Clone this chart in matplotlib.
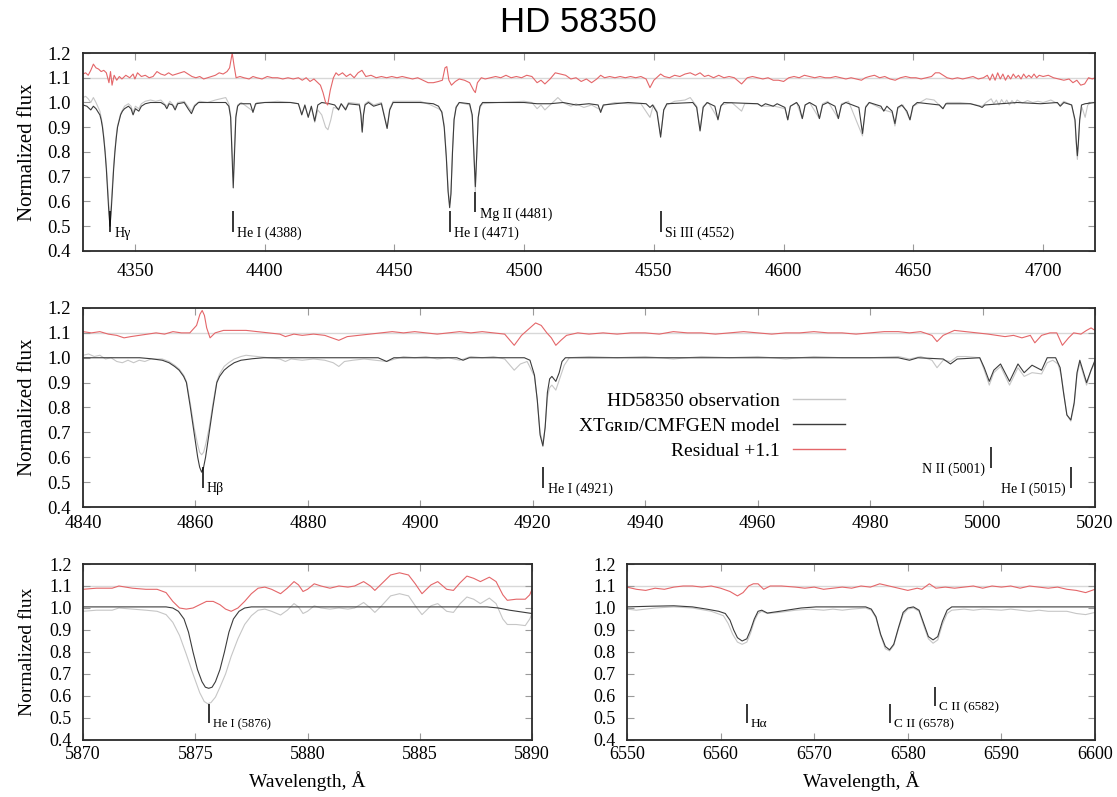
import numpy as np
import matplotlib.pyplot as plt
from matplotlib.ticker import FormatStrFormatter

plt.rcParams['font.family'] = ['Liberation Serif', 'DejaVu Serif']

# ---------------- panel 1 : 4330-4720 A ----------------
p1_model = np.array([
    [4330, 0.99], [4331.5, 0.985], [4333, 0.97], [4334, 0.985], [4335, 0.975], [4336.5, 0.95],
    [4337, 0.93], [4337.5, 0.9], [4338, 0.855], [4338.5, 0.8], [4339, 0.73], [4339.5, 0.64],
    [4340, 0.55], [4340.4, 0.50], [4340.8, 0.55], [4341.3, 0.64], [4341.8, 0.73], [4342.3, 0.8],
    [4342.8, 0.855], [4343.3, 0.9], [4344, 0.93], [4344.5, 0.95], [4345.2, 0.965], [4346, 0.975],
    [4347.5, 0.985], [4348.5, 0.975], [4349.3, 0.95], [4350.2, 0.975], [4351.5, 0.965], [4352.5, 0.985],
    [4354, 0.995], [4356, 1.0], [4360, 1.0], [4361.5, 0.99], [4362.3, 0.975], [4363.2, 0.995],
    [4364.5, 0.99], [4365.5, 0.97], [4366.5, 0.995], [4369, 1.0], [4370.5, 0.975], [4371.8, 0.955],
    [4373, 0.985], [4374.5, 1.0], [4385, 1.0], [4386.2, 0.985], [4386.9, 0.94], [4387.4, 0.8],
    [4387.9, 0.655], [4388.4, 0.8], [4388.9, 0.94], [4389.6, 0.985], [4390.5, 0.995], [4394.5, 0.995],
    [4395.5, 0.96], [4396.5, 0.995], [4400, 1.0], [4410, 1.0], [4413, 0.995], [4414.3, 0.95],
    [4415.5, 0.99], [4416.8, 0.94], [4418, 0.985], [4419.3, 0.925], [4420.5, 0.99], [4422, 1.0],
    [4425, 0.995], [4427, 0.99], [4428.5, 0.97], [4429.5, 0.995], [4431.2, 0.97], [4432.3, 0.995],
    [4436.5, 0.99], [4437.1, 0.95], [4437.6, 0.88], [4438.1, 0.95], [4438.7, 0.99], [4440, 1.0],
    [4442, 0.985], [4443.5, 0.99], [4445, 0.995], [4446, 0.95], [4447.2, 0.895], [4448.2, 0.97],
    [4449.5, 1.0], [4460, 1.0], [4465, 0.995], [4467, 0.985], [4468.3, 0.96], [4469.2, 0.9],
    [4470, 0.78], [4470.7, 0.64], [4471.3, 0.575], [4471.8, 0.63], [4472.4, 0.8], [4473, 0.93],
    [4473.8, 0.98], [4475, 1.0], [4479, 0.995], [4480, 0.95], [4480.6, 0.8], [4481.2, 0.66],
    [4481.7, 0.78], [4482.3, 0.94], [4483, 0.985], [4484, 1.0], [4500, 1.0], [4505, 0.995],
    [4510, 0.995], [4515, 1.0], [4520, 0.99], [4525, 0.995], [4528.5, 0.99], [4529.5, 0.96],
    [4530.5, 0.99], [4535, 0.995], [4540, 1.0], [4547, 0.995], [4548.5, 0.98], [4549.5, 0.99],
    [4551.2, 0.96], [4552.6, 0.86], [4553.8, 0.97], [4555, 0.995], [4565, 1.0], [4566.5, 0.98],
    [4567.8, 0.885], [4569, 0.98], [4570.5, 1.0], [4573.5, 0.985], [4574.7, 0.93], [4575.8, 0.985],
    [4577, 1.0], [4590, 0.995], [4591.5, 0.985], [4593, 0.995], [4596, 0.985], [4597.5, 0.995],
    [4600.5, 0.98], [4601.6, 0.93], [4602.6, 0.985], [4605, 1.0], [4606, 0.985], [4607.2, 0.935],
    [4608.3, 0.99], [4610, 1.0], [4612.5, 0.985], [4613.8, 0.935], [4615, 0.99], [4617, 1.0],
    [4619.8, 0.985], [4621.1, 0.935], [4622.3, 0.99], [4624, 1.0], [4629, 0.98], [4630.4, 0.875],
    [4631.6, 0.98], [4633, 1.0], [4637.5, 0.985], [4638.6, 0.965], [4639.8, 0.985], [4641.8, 0.965],
    [4642.9, 0.915], [4644, 0.98], [4645.5, 0.99], [4647.5, 0.965], [4648.7, 0.93], [4649.8, 0.985],
    [4651.5, 1.0], [4660, 0.99], [4661.4, 0.975], [4662.5, 0.995], [4672, 0.995], [4675.5, 0.985],
    [4676.5, 0.98], [4677.5, 0.99], [4690, 1.0], [4699, 0.995], [4705.5, 1.0], [4706.6, 0.985],
    [4708, 1.0], [4711, 0.99], [4712.3, 0.93], [4712.8, 0.84], [4713.2, 0.785], [4713.6, 0.84],
    [4714.1, 0.93], [4714.8, 0.99], [4716.2, 0.995], [4720, 1.0]])

p1_obs = np.array([
    [4330, 1.02], [4331, 1.025], [4332, 1.015], [4333, 1.0], [4334, 1.02], [4335, 1.0],
    [4336.5, 0.965], [4337, 0.94], [4337.5, 0.91], [4338, 0.865], [4338.5, 0.81], [4339, 0.745],
    [4339.5, 0.66], [4340, 0.58], [4340.4, 0.545], [4340.8, 0.58], [4341.3, 0.66], [4341.8, 0.745],
    [4342.3, 0.81], [4342.8, 0.865], [4343.3, 0.905], [4344, 0.935], [4344.5, 0.955], [4346, 0.985],
    [4347.5, 0.995], [4348.5, 0.985], [4349.3, 0.96], [4350.2, 0.985], [4351.5, 0.975], [4352.5, 0.995],
    [4354, 1.005], [4356, 1.01], [4358, 1.005], [4360, 1.01], [4362.3, 0.985], [4363.5, 1.005],
    [4365.5, 0.98], [4366.5, 1.0], [4369, 1.005], [4371.8, 0.965], [4373, 0.99], [4375, 1.005],
    [4378, 1.0], [4381, 1.01], [4383, 1.015], [4385, 1.02], [4386.2, 0.995], [4386.9, 0.95],
    [4387.4, 0.82], [4387.9, 0.70], [4388.4, 0.82], [4388.9, 0.95], [4389.6, 0.99], [4391, 1.0],
    [4395.5, 0.965], [4397, 1.0], [4400, 1.0], [4405, 1.005], [4410, 1.0], [4413, 0.995],
    [4414.3, 0.955], [4415.5, 0.985], [4416.8, 0.945], [4418, 0.98], [4419.3, 0.92], [4420.5, 0.97],
    [4422, 0.95], [4423.5, 0.90], [4424.4, 0.89], [4425.5, 0.93], [4426.5, 0.98], [4428.5, 0.975],
    [4429.5, 0.995], [4431.2, 0.975], [4432.3, 1.0], [4436.5, 0.995], [4437.1, 0.955], [4437.6, 0.885],
    [4438.1, 0.955], [4438.7, 0.995], [4440, 1.005], [4442, 0.99], [4445, 1.0], [4446, 0.955],
    [4447.2, 0.9], [4448.2, 0.975], [4449.5, 1.005], [4455, 1.005], [4460, 1.005], [4464, 0.99],
    [4467, 0.975], [4468.3, 0.965], [4469.2, 0.91], [4470, 0.79], [4470.7, 0.65], [4471.3, 0.59],
    [4471.8, 0.64], [4472.4, 0.81], [4473, 0.935], [4473.8, 0.985], [4475, 1.0], [4479, 0.99],
    [4480, 0.94], [4480.6, 0.79], [4481.2, 0.64], [4481.7, 0.77], [4482.3, 0.935], [4483, 0.98],
    [4484, 0.995], [4490, 1.0], [4500, 1.005], [4503, 1.0], [4505, 0.975], [4506.5, 0.99],
    [4508, 0.97], [4510, 0.99], [4513, 1.02], [4515, 1.0], [4518, 0.985], [4520, 0.995],
    [4523, 0.98], [4526, 0.99], [4529.5, 0.97], [4531, 0.99], [4535, 1.0], [4540, 0.995],
    [4545, 0.995], [4548.5, 0.94], [4549.8, 0.99], [4551.2, 0.965], [4552.6, 0.87], [4553.8, 0.97],
    [4555, 0.99], [4558, 1.005], [4562, 1.01], [4564, 1.02], [4566.5, 0.985], [4567.8, 0.89],
    [4569, 0.985], [4571, 1.0], [4574.7, 0.935], [4576, 0.99], [4580, 1.0], [4583.8, 0.965],
    [4585, 0.995], [4590, 0.995], [4591.5, 0.985], [4596.5, 0.985], [4600.5, 0.975], [4601.6, 0.93],
    [4602.6, 0.985], [4605, 1.0], [4607.2, 0.935], [4608.3, 0.99], [4610, 1.0], [4613.8, 0.935],
    [4615, 0.995], [4617, 1.005], [4621.1, 0.935], [4622.3, 0.995], [4625, 1.005], [4630.4, 0.865],
    [4631.6, 0.985], [4633, 1.0], [4638.6, 0.97], [4641.8, 0.96], [4642.9, 0.905], [4644, 0.975],
    [4646, 0.99], [4648.7, 0.93], [4650, 0.985], [4655, 1.015], [4658, 1.01], [4661.4, 0.975],
    [4663, 1.0], [4668, 1.0], [4672, 0.995], [4676.5, 0.985], [4678, 1.0], [4680, 1.015],
    [4681, 0.995], [4682, 1.01], [4683, 0.99], [4684, 1.012], [4685, 0.995], [4686, 1.01],
    [4687, 0.99], [4688, 1.008], [4689, 0.995], [4690, 1.01], [4692, 0.998], [4694, 1.008],
    [4696, 1.0], [4698, 1.005], [4700, 1.0], [4703, 1.01], [4706.6, 0.99], [4708, 1.005],
    [4711, 0.99], [4712.3, 0.92], [4712.8, 0.83], [4713.2, 0.77], [4713.6, 0.83], [4714.1, 0.93],
    [4715, 0.98], [4716.2, 0.94], [4717.2, 0.99], [4718.5, 1.0], [4720, 1.0]])

p1_resid = np.array([
    [4330, 1.115], [4331, 1.12], [4332, 1.11], [4333, 1.13], [4334, 1.155], [4335, 1.14],
    [4336, 1.135], [4337, 1.125], [4338, 1.13], [4339, 1.12], [4340, 1.08], [4340.6, 1.125],
    [4341.2, 1.07], [4342, 1.11], [4343, 1.09], [4344, 1.105], [4345, 1.095], [4346.5, 1.11],
    [4348, 1.1], [4349.3, 1.115], [4350, 1.095], [4351, 1.12], [4352.5, 1.105], [4354, 1.11],
    [4355.5, 1.1], [4357, 1.105], [4358.5, 1.125], [4360, 1.115], [4361.5, 1.11], [4363, 1.12],
    [4364.5, 1.11], [4366, 1.115], [4367.5, 1.12], [4369, 1.125], [4370.5, 1.115], [4372, 1.105],
    [4373.5, 1.1], [4375, 1.105], [4376.5, 1.095], [4378, 1.1], [4379.5, 1.105], [4381, 1.11],
    [4382.5, 1.12], [4384, 1.115], [4385.5, 1.125], [4386.5, 1.14], [4387.5, 1.2], [4388.2, 1.15],
    [4389, 1.1], [4390.5, 1.105], [4392, 1.1], [4394, 1.095], [4395.5, 1.105], [4397, 1.1],
    [4399, 1.095], [4401, 1.105], [4403, 1.1], [4405, 1.1], [4407, 1.095], [4409, 1.1],
    [4411, 1.095], [4413, 1.1], [4414.5, 1.09], [4416, 1.1], [4417.5, 1.085], [4419, 1.095],
    [4420.5, 1.08], [4421.5, 1.07], [4422.5, 1.04], [4423.5, 1.0], [4424.3, 0.99], [4425.3, 1.05],
    [4426.5, 1.1], [4427.5, 1.12], [4428.5, 1.11], [4430, 1.12], [4431.5, 1.105], [4433, 1.115],
    [4434.5, 1.1], [4436, 1.12], [4437.5, 1.13], [4439, 1.105], [4441, 1.11], [4443, 1.1],
    [4445, 1.105], [4447, 1.1], [4449, 1.105], [4451, 1.1], [4453, 1.105], [4455, 1.1],
    [4457, 1.095], [4459, 1.1], [4461, 1.09], [4463, 1.08], [4465, 1.08], [4467, 1.085],
    [4468.5, 1.09], [4469.5, 1.14], [4470.2, 1.145], [4471, 1.09], [4472, 1.07], [4473.5, 1.085],
    [4475, 1.095], [4477, 1.09], [4479, 1.08], [4480.5, 1.05], [4481.2, 1.04], [4482, 1.08],
    [4483.5, 1.1], [4485, 1.095], [4487, 1.1], [4489, 1.105], [4491, 1.1], [4493, 1.11],
    [4495, 1.1], [4497, 1.105], [4499, 1.1], [4501, 1.11], [4503, 1.105], [4505, 1.08],
    [4506.5, 1.09], [4508, 1.075], [4510, 1.095], [4512, 1.12], [4514, 1.115], [4516, 1.11],
    [4518, 1.095], [4520, 1.1], [4522, 1.085], [4524, 1.095], [4526, 1.08], [4528, 1.095],
    [4529.5, 1.11], [4531, 1.1], [4533, 1.105], [4535, 1.1], [4537, 1.105], [4539, 1.1],
    [4541, 1.105], [4543, 1.1], [4545, 1.105], [4547, 1.095], [4548.5, 1.06], [4550, 1.09],
    [4552.6, 1.115], [4554, 1.105], [4556, 1.1], [4558, 1.11], [4560, 1.105], [4562, 1.115],
    [4564, 1.12], [4566, 1.11], [4567.8, 1.12], [4569.5, 1.105], [4571, 1.11], [4573, 1.1],
    [4575, 1.11], [4577, 1.1], [4579, 1.105], [4581, 1.1], [4583.8, 1.075], [4586, 1.1],
    [4588, 1.105], [4590, 1.1], [4592, 1.095], [4594, 1.1], [4596, 1.09], [4598, 1.09],
    [4600, 1.085], [4602, 1.1], [4604, 1.105], [4606, 1.1], [4608, 1.11], [4610, 1.105],
    [4612, 1.1], [4614, 1.105], [4616, 1.1], [4618, 1.1], [4620, 1.105], [4622, 1.1],
    [4624, 1.095], [4626, 1.1], [4628, 1.095], [4630, 1.09], [4631.5, 1.1], [4633, 1.105],
    [4635, 1.11], [4637, 1.1], [4639, 1.105], [4641, 1.095], [4643, 1.09], [4645, 1.1],
    [4647, 1.105], [4649, 1.1], [4651, 1.1], [4653, 1.095], [4655, 1.1], [4657, 1.105],
    [4658.5, 1.12], [4660, 1.12], [4661.5, 1.11], [4663, 1.1], [4665, 1.095], [4667, 1.1],
    [4669, 1.095], [4671, 1.1], [4673, 1.105], [4675, 1.095], [4677, 1.1], [4678.5, 1.11],
    [4679.5, 1.09], [4680.5, 1.115], [4681.5, 1.09], [4682.5, 1.12], [4683.5, 1.095], [4684.5, 1.115],
    [4685.5, 1.09], [4686.5, 1.11], [4687.5, 1.095], [4688.5, 1.115], [4689.5, 1.1], [4690.5, 1.11],
    [4691.5, 1.095], [4692.5, 1.115], [4693.5, 1.1], [4694.5, 1.11], [4695.5, 1.1], [4696.5, 1.115],
    [4697.5, 1.1], [4698.5, 1.11], [4700, 1.105], [4702, 1.11], [4704, 1.1], [4706, 1.095],
    [4708, 1.09], [4710, 1.095], [4711.5, 1.08], [4713, 1.09], [4714.5, 1.07], [4716, 1.075],
    [4717.5, 1.1], [4719, 1.095], [4720, 1.1]])

p1_ids = ['Hγ', 'He I (4388)', 'He I (4471)', 'Mg II (4481)', 'Si III (4552)']
p1_id_wl = [4340.5, 4387.9, 4471.3, 4481.2, 4552.6]
p1_id_high = [False, False, False, True, False]
p1_id_left = [False, False, False, False, False]

# ---------------- panel 2 : 4840-5020 A ----------------
p2_model = np.array([
    [4840, 1.0], [4850.1, 1.0], [4852.1, 0.996], [4854.1, 0.99], [4855.3, 0.98], [4856.3, 0.965],
    [4857.1, 0.95], [4857.9, 0.925], [4858.4, 0.9], [4858.75, 0.85], [4859.1, 0.8], [4859.75, 0.7],
    [4860.4, 0.6], [4860.75, 0.56], [4861.1, 0.54], [4861.45, 0.56], [4861.8, 0.6], [4862.45, 0.7],
    [4863.1, 0.8], [4863.45, 0.85], [4863.8, 0.9], [4864.3, 0.925], [4865.1, 0.95], [4865.9, 0.965],
    [4866.9, 0.98], [4868.1, 0.99], [4870.1, 0.996], [4872.1, 1.0], [4892.5, 1.0], [4894, 0.985],
    [4895.3, 1.0], [4906.5, 1.0], [4907.6, 0.99], [4908.7, 1.0], [4918.5, 1.0], [4919.5, 0.99],
    [4920.3, 0.93], [4920.8, 0.83], [4921.3, 0.69], [4921.8, 0.645], [4922.2, 0.72], [4922.6, 0.86],
    [4923.0, 0.915], [4923.4, 0.925], [4924.1, 0.905], [4924.7, 0.94], [4925.2, 0.985], [4925.8, 1.0],
    [4930, 1.0], [4985, 1.0], [4987, 0.99], [4988.5, 1.0], [4993, 0.995], [4994.3, 0.975],
    [4995.5, 0.995], [4999.5, 1.0], [5000.3, 0.96], [5001.2, 0.905], [5002, 0.95], [5003.2, 0.975],
    [5004.8, 0.905], [5006.3, 0.975], [5007.4, 0.94], [5008.8, 0.97], [5010.5, 0.95], [5011.5, 1.0],
    [5013, 1.0], [5013.8, 0.96], [5014.4, 0.86], [5015.0, 0.77], [5015.7, 0.75], [5016.3, 0.82],
    [5016.8, 0.94], [5017.3, 0.99], [5018.5, 0.9], [5019.3, 0.95], [5020, 0.99]])

p2_obs = np.array([
    [4840, 1.01], [4841, 1.015], [4842, 1.005], [4843, 1.01], [4844, 0.995], [4845, 1.0],
    [4846, 0.985], [4847, 0.98], [4848, 0.99], [4849, 0.98], [4850, 0.99], [4851, 0.985],
    [4852.1, 0.995], [4854.1, 0.995], [4855.3, 0.985], [4856.3, 0.97], [4857.1, 0.955], [4857.9, 0.93],
    [4858.4, 0.905], [4858.75, 0.86], [4859.1, 0.815], [4859.75, 0.72], [4860.4, 0.65], [4860.75, 0.62],
    [4861.1, 0.61], [4861.45, 0.62], [4861.8, 0.65], [4862.45, 0.72], [4863.1, 0.815], [4863.45, 0.86],
    [4863.8, 0.905], [4864.3, 0.935], [4865.1, 0.965], [4865.9, 0.98], [4866.9, 0.995], [4868.1, 1.005],
    [4869, 1.01], [4871, 1.005], [4873, 1.0], [4875, 0.995], [4876, 0.985], [4877, 0.995],
    [4879, 0.99], [4881, 0.995], [4883, 0.99], [4884.5, 0.98], [4885.5, 0.965], [4886.5, 0.985],
    [4888, 0.99], [4890, 0.995], [4892, 0.99], [4894, 0.985], [4895.5, 0.995], [4897, 1.005],
    [4899, 1.0], [4901, 1.005], [4903, 0.995], [4905, 1.0], [4907, 0.99], [4909, 1.005],
    [4911, 1.0], [4913, 1.005], [4915, 0.995], [4916.7, 0.95], [4917.8, 0.975], [4919, 0.985],
    [4920.3, 0.925], [4920.8, 0.83], [4921.3, 0.7], [4921.8, 0.655], [4922.2, 0.72], [4922.6, 0.84],
    [4923.0, 0.88], [4923.4, 0.89], [4924.1, 0.87], [4924.7, 0.91], [4925.6, 0.97], [4926.5, 1.0],
    [4930, 1.005], [4935, 1.0], [4940, 1.005], [4945, 0.995], [4950, 1.005], [4955, 1.0],
    [4960, 1.005], [4965, 0.995], [4970, 1.005], [4975, 1.0], [4980, 1.0], [4985, 1.005],
    [4987, 0.995], [4989, 1.005], [4991, 0.99], [4991.9, 0.96], [4993, 0.99], [4994.3, 0.985],
    [4995.5, 1.005], [4997, 1.005], [4999.5, 1.0], [5000.3, 0.95], [5001.2, 0.89], [5002, 0.94],
    [5003.2, 0.965], [5004.8, 0.89], [5006.3, 0.96], [5007.4, 0.925], [5008.8, 0.94], [5010.5, 0.935],
    [5011.5, 0.98], [5012.5, 0.99], [5013.4, 0.975], [5014.0, 0.93], [5014.5, 0.85], [5015.0, 0.77],
    [5015.7, 0.745], [5016.3, 0.81], [5016.8, 0.93], [5017.3, 0.98], [5018.5, 0.89], [5019.3, 0.95],
    [5020, 0.98]])

p2_resid = np.array([
    [4840, 1.105], [4841.5, 1.1], [4843, 1.105], [4844.5, 1.095], [4846, 1.09], [4847.3, 1.08],
    [4848.5, 1.085], [4850, 1.09], [4851.5, 1.095], [4853, 1.1], [4854.5, 1.095], [4856, 1.105],
    [4857.5, 1.1], [4859, 1.1], [4860.2, 1.13], [4860.8, 1.175], [4861.2, 1.19], [4861.6, 1.17],
    [4862, 1.12], [4862.6, 1.08], [4863.5, 1.1], [4865, 1.11], [4867, 1.11], [4869, 1.11],
    [4871, 1.105], [4873, 1.1], [4875, 1.095], [4876, 1.085], [4877.5, 1.095], [4879, 1.09],
    [4881, 1.095], [4883, 1.09], [4885.5, 1.07], [4887, 1.085], [4889, 1.09], [4891, 1.095],
    [4893, 1.1], [4895, 1.105], [4897, 1.1], [4899, 1.105], [4901, 1.1], [4903, 1.095],
    [4905, 1.1], [4907, 1.105], [4909, 1.1], [4911, 1.105], [4913, 1.1], [4915, 1.095],
    [4916.7, 1.05], [4918, 1.09], [4919.5, 1.12], [4920.5, 1.14], [4921.5, 1.13], [4922.5, 1.1],
    [4923.3, 1.08], [4924.1, 1.05], [4925, 1.07], [4926, 1.09], [4928, 1.1], [4930, 1.095],
    [4932.5, 1.1], [4935, 1.095], [4937.5, 1.1], [4940, 1.1], [4942.5, 1.095], [4945, 1.105],
    [4947.5, 1.1], [4950, 1.1], [4952.5, 1.095], [4955, 1.1], [4957.5, 1.105], [4960, 1.1],
    [4962.5, 1.095], [4965, 1.1], [4967.5, 1.1], [4970, 1.105], [4972.5, 1.1], [4975, 1.1],
    [4977.5, 1.095], [4980, 1.1], [4982.5, 1.105], [4985, 1.105], [4987, 1.1], [4989, 1.105],
    [4991, 1.09], [4991.9, 1.065], [4993, 1.09], [4995, 1.11], [4997, 1.105], [4999, 1.1],
    [5001, 1.095], [5002.5, 1.09], [5004, 1.085], [5005.5, 1.09], [5007, 1.08], [5008.5, 1.09],
    [5009.3, 1.06], [5010.5, 1.09], [5012, 1.1], [5013.2, 1.1], [5014.2, 1.05], [5015.3, 1.08],
    [5016.2, 1.1], [5017.5, 1.095], [5018.5, 1.11], [5019.3, 1.12], [5020, 1.11]])

p2_ids = ['Hβ', 'He I (4921)', 'N II (5001)', 'He I (5015)']
p2_id_wl = [4861.3, 4921.9, 5001.5, 5015.7]
p2_id_high = [False, False, True, False]
p2_id_left = [False, False, True, True]

# ---------------- panel 3 : 5870-5890 A ----------------
p3_model = np.array([
    [5870, 1.005], [5873.7, 1.005], [5874.0, 1.0], [5874.25, 0.985], [5874.5, 0.95], [5874.7, 0.89],
    [5874.9, 0.8], [5875.1, 0.72], [5875.3, 0.665], [5875.45, 0.64], [5875.6, 0.635], [5875.75, 0.64],
    [5875.9, 0.665], [5876.1, 0.72], [5876.3, 0.8], [5876.5, 0.89], [5876.7, 0.95], [5876.95, 0.985],
    [5877.2, 1.0], [5877.5, 1.005], [5888, 1.005], [5888.5, 1.0], [5889, 0.99], [5890, 0.975]])

p3_obs = np.array([
    [5870, 0.985], [5870.6, 0.99], [5871.3, 0.99], [5871.6, 1.0], [5872.2, 0.995], [5872.8, 0.99],
    [5873.3, 0.985], [5873.7, 0.97], [5874.0, 0.935], [5874.3, 0.875], [5874.6, 0.79], [5874.9, 0.7],
    [5875.2, 0.615], [5875.4, 0.575], [5875.55, 0.565], [5875.7, 0.57], [5875.9, 0.595], [5876.1, 0.64],
    [5876.35, 0.7], [5876.6, 0.78], [5876.9, 0.86], [5877.2, 0.925], [5877.5, 0.965], [5877.8, 0.99],
    [5878.1, 0.995], [5878.4, 0.985], [5878.8, 0.968], [5879.1, 0.99], [5879.4, 1.02], [5879.6, 1.005],
    [5879.8, 0.975], [5880.0, 0.985], [5880.3, 1.01], [5880.6, 1.0], [5881.0, 0.995], [5881.4, 1.0],
    [5881.8, 0.995], [5882.1, 1.0], [5882.5, 1.025], [5882.8, 1.0], [5883.0, 0.98], [5883.3, 1.01],
    [5883.7, 1.055], [5884.1, 1.065], [5884.5, 1.055], [5884.8, 1.01], [5885.1, 0.97], [5885.5, 1.01],
    [5885.8, 1.02], [5886.2, 0.985], [5886.5, 0.98], [5886.8, 1.02], [5887.1, 1.05], [5887.4, 1.04],
    [5887.7, 1.02], [5888.1, 1.045], [5888.4, 1.02], [5888.7, 0.95], [5888.9, 0.925], [5889.3, 0.925],
    [5889.7, 0.92], [5889.9, 0.95], [5890, 0.975]])

p3_resid = np.array([
    [5870, 1.085], [5870.6, 1.09], [5871.3, 1.09], [5871.6, 1.1], [5872.2, 1.09], [5872.8, 1.085],
    [5873.3, 1.085], [5873.7, 1.07], [5874.0, 1.03], [5874.3, 1.0], [5874.6, 0.995], [5874.9, 1.0],
    [5875.2, 1.015], [5875.5, 1.03], [5875.8, 1.03], [5876.1, 1.015], [5876.35, 0.995], [5876.6, 0.985],
    [5876.9, 1.0], [5877.2, 1.03], [5877.5, 1.065], [5877.8, 1.09], [5878.1, 1.095], [5878.4, 1.085],
    [5878.8, 1.065], [5879.1, 1.09], [5879.4, 1.12], [5879.6, 1.105], [5879.8, 1.075], [5880.0, 1.085],
    [5880.3, 1.11], [5880.6, 1.1], [5881.0, 1.09], [5881.4, 1.1], [5881.8, 1.095], [5882.1, 1.1],
    [5882.5, 1.12], [5882.8, 1.1], [5883.0, 1.08], [5883.3, 1.11], [5883.7, 1.15], [5884.1, 1.16],
    [5884.5, 1.15], [5884.8, 1.11], [5885.1, 1.065], [5885.5, 1.105], [5885.8, 1.12], [5886.2, 1.085],
    [5886.5, 1.08], [5886.8, 1.115], [5887.1, 1.145], [5887.4, 1.135], [5887.7, 1.12], [5888.1, 1.14],
    [5888.4, 1.12], [5888.7, 1.06], [5888.9, 1.035], [5889.3, 1.04], [5889.7, 1.04], [5889.9, 1.06],
    [5890, 1.085]])

p3_ids = ['He I (5876)']
p3_id_wl = [5875.6]
p3_id_high = [False]
p3_id_left = [False]

# ---------------- panel 4 : 6550-6600 A ----------------
p4_model = np.array([
    [6550, 1.005], [6552.5, 1.008], [6555, 1.01], [6557, 1.005], [6558.5, 0.995], [6559.8, 0.985],
    [6560.5, 0.975], [6561.0, 0.945], [6561.4, 0.9], [6561.8, 0.865], [6562.3, 0.85], [6562.8, 0.86],
    [6563.2, 0.9], [6563.6, 0.95], [6564.0, 0.985], [6564.4, 0.99], [6565, 0.977], [6566.3, 0.985],
    [6568.6, 1.0], [6570.2, 1.005], [6575.5, 1.005], [6576.1, 0.995], [6576.6, 0.96], [6577.1, 0.88],
    [6577.6, 0.825], [6578.05, 0.81], [6578.5, 0.835], [6579.0, 0.91], [6579.5, 0.98], [6580.0, 1.0],
    [6580.6, 1.005], [6581.2, 0.99], [6581.7, 0.93], [6582.2, 0.87], [6582.7, 0.855], [6583.2, 0.87],
    [6583.7, 0.94], [6584.2, 0.99], [6584.7, 1.005], [6600, 1.005]])

p4_obs = np.array([
    [6550, 0.995], [6551, 0.99], [6552, 0.995], [6553, 1.0], [6555, 1.005], [6557, 1.0],
    [6559, 0.985], [6560.3, 0.965], [6560.8, 0.93], [6561.3, 0.88], [6561.8, 0.845], [6562.3, 0.835],
    [6562.8, 0.845], [6563.2, 0.885], [6563.6, 0.94], [6564.0, 0.975], [6564.4, 0.985], [6565, 0.975],
    [6566.3, 0.98], [6568, 0.99], [6569.5, 0.995], [6571, 0.99], [6572, 0.995], [6573, 0.99],
    [6574, 0.995], [6575.5, 1.0], [6576.1, 0.99], [6576.6, 0.955], [6577.1, 0.875], [6577.6, 0.815],
    [6578.05, 0.805], [6578.5, 0.83], [6579.0, 0.905], [6579.5, 0.97], [6580.0, 0.995], [6580.6, 1.0],
    [6581.2, 0.985], [6581.7, 0.92], [6582.2, 0.86], [6582.7, 0.84], [6583.2, 0.855], [6583.7, 0.925],
    [6584.2, 0.975], [6584.7, 0.99], [6586, 0.995], [6587, 0.99], [6588, 0.995], [6590, 0.99],
    [6591, 0.995], [6593, 0.985], [6594, 0.99], [6595, 0.985], [6597, 0.985], [6598, 0.975],
    [6599, 0.97], [6600, 0.98]])

p4_resid = np.array([
    [6550, 1.095], [6551, 1.085], [6552, 1.08], [6553, 1.09], [6554, 1.085], [6555, 1.095],
    [6556, 1.1], [6557, 1.1], [6558, 1.095], [6559, 1.1], [6560, 1.09], [6561, 1.075],
    [6561.8, 1.055], [6562.4, 1.07], [6563, 1.1], [6563.5, 1.11], [6564, 1.11], [6564.6, 1.085],
    [6565.3, 1.1], [6566.5, 1.1], [6568, 1.095], [6569, 1.09], [6570, 1.095], [6571, 1.085],
    [6572, 1.09], [6573, 1.095], [6574, 1.09], [6575, 1.1], [6576, 1.095], [6577, 1.11],
    [6578, 1.1], [6579, 1.09], [6580, 1.08], [6581, 1.09], [6581.5, 1.085], [6582.3, 1.11],
    [6583, 1.09], [6584, 1.095], [6585, 1.09], [6586, 1.095], [6587, 1.1], [6588, 1.09],
    [6589, 1.1], [6590, 1.095], [6591, 1.1], [6592, 1.09], [6593, 1.1], [6594, 1.095],
    [6595, 1.09], [6596, 1.095], [6597, 1.085], [6598, 1.08], [6599, 1.07], [6600, 1.085]])

p4_ids = ['Hα', 'C II (6578)', 'C II (6582)']
p4_id_wl = [6562.8, 6578.1, 6582.9]
p4_id_high = [False, False, True]
p4_id_left = [False, False, False]

c_obs = '#c6c6c6'
c_model = '#3c3c3c'
c_resid = '#e46669'

W, H = 1117, 797
fig = plt.figure(figsize=(W / 100, H / 100), dpi=100)


def make_axes(l, t, r, b):
    return fig.add_axes([l / W, 1 - b / H, (r - l) / W, (b - t) / H])


def draw_panel(ax, model, obs, resid, xlim, xticks, ids, id_wl, id_high, id_left,
               tsize, lsize):
    ax.axhline(1.1, color='#d8d8d8', lw=1.0, zorder=0)
    l1, = ax.plot(obs[:, 0], obs[:, 1], color=c_obs, lw=0.8)
    l2, = ax.plot(model[:, 0], model[:, 1], color=c_model, lw=0.8)
    l3, = ax.plot(resid[:, 0], resid[:, 1], color=c_resid, lw=0.8)
    ax.set_xlim(*xlim)
    ax.set_ylim(0.4, 1.2)
    ax.set_xticks(xticks)
    ax.set_yticks(np.arange(0.4, 1.201, 0.1))
    ax.yaxis.set_major_formatter(FormatStrFormatter('%.1f'))
    ax.tick_params(direction='in', top=True, right=True, length=5, width=0.8,
                   color='#9a9a9a', labelsize=tsize)
    for s in ax.spines.values():
        s.set_linewidth(1.3)
        s.set_color('#2a2a2a')
    for name, wl, hi, left in zip(ids, id_wl, id_high, id_left):
        y0, y1 = (0.556, 0.64) if hi else (0.478, 0.562)
        ax.vlines(wl, y0, y1, color='black', lw=1.1)
        ax.annotate(name, xy=(wl, y0), xytext=(-4 if left else 3, -1),
                    textcoords='offset points', ha='right' if left else 'left',
                    va='center', fontsize=lsize)
    return l1, l2, l3


ax1 = make_axes(83, 53, 1095, 251)
draw_panel(ax1, p1_model, p1_obs, p1_resid, (4330, 4720), np.arange(4350, 4701, 50),
           p1_ids, p1_id_wl, p1_id_high, p1_id_left, 13.5, 10)
ax1.tick_params(axis='x', pad=9)
ax1.tick_params(axis='y', pad=9)
ax1.set_ylabel('Normalized flux', fontsize=15)
ax1.yaxis.set_label_coords(-0.045, 0.5)

ax2 = make_axes(83, 308, 1095, 507)
h = draw_panel(ax2, p2_model, p2_obs, p2_resid, (4840, 5020), np.arange(4840, 5021, 20),
               p2_ids, p2_id_wl, p2_id_high, p2_id_left, 13.5, 10)
ax2.tick_params(axis='x', pad=6)
ax2.tick_params(axis='y', pad=9)
ax2.set_ylabel('Normalized flux', fontsize=15)
ax2.yaxis.set_label_coords(-0.045, 0.5)
leg = ax2.legend(h, ['HD58350 observation', 'XTɢʀɪᴅ/CMFGEN model', 'Residual +1.1'],
                 loc='center right', bbox_to_anchor=(0.753, 0.407), frameon=False,
                 markerfirst=False, fontsize=14, handlelength=2.7, handletextpad=0.65,
                 labelspacing=0.38, borderpad=0, borderaxespad=0)
for ln in leg.get_lines():
    ln.set_linewidth(1.0)

ax3 = make_axes(83, 564, 532, 740)
draw_panel(ax3, p3_model, p3_obs, p3_resid, (5870, 5890), np.arange(5870, 5891, 5),
           p3_ids, p3_id_wl, p3_id_high, p3_id_left, 13, 9)
ax3.tick_params(axis='x', pad=4)
ax3.tick_params(axis='y', pad=8)
ax3.set_ylabel('Normalized flux', fontsize=14)
ax3.yaxis.set_label_coords(-0.105, 0.5)
ax3.set_xlabel('Wavelength, Å', fontsize=14, labelpad=6)

ax4 = make_axes(627, 564, 1095, 740)
draw_panel(ax4, p4_model, p4_obs, p4_resid, (6550, 6600), np.arange(6550, 6601, 10),
           p4_ids, p4_id_wl, p4_id_high, p4_id_left, 13, 9.5)
ax4.tick_params(axis='x', pad=4)
ax4.tick_params(axis='y', pad=8)
ax4.set_xlabel('Wavelength, Å', fontsize=14, labelpad=6)

fig.text(578 / W, 1 - 23 / H, 'HD 58350', ha='center', va='center', fontsize=25,
         family=['Liberation Sans Narrow', 'Liberation Sans', 'DejaVu Sans'])

fig.savefig('out.png', dpi=100)
